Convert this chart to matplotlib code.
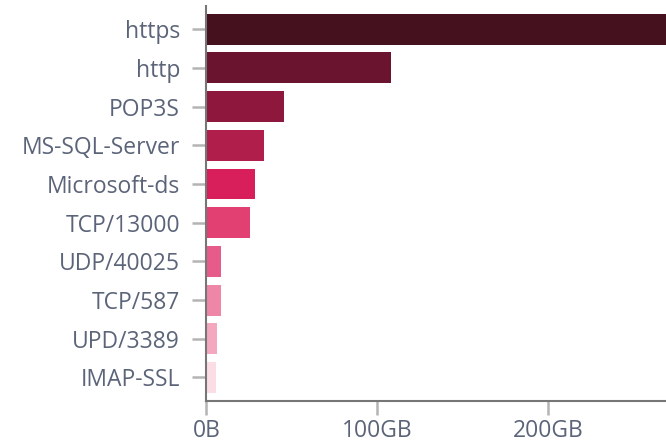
import matplotlib
matplotlib.use('Agg')
import matplotlib.pyplot as plt

# traffic volume per service, in GB
services = ['https', 'http', 'POP3S', 'MS-SQL-Server', 'Microsoft-ds',
            'TCP/13000', 'UDP/40025', 'TCP/587', 'UPD/3389', 'IMAP-SSL']
volumes = [290, 108, 45.4, 33.7, 28.5, 25.6, 8.6, 8.6, 6.3, 5.7]
colors = ['#45111f', '#6a1430', '#8e173e', '#b01e4c', '#d81e5b',
          '#e23f72', '#e65b8a', '#ee86a7', '#f4a8c0', '#fbdde5']
x_ticks = [0, 100, 200]
x_tick_labels = ['0B', '100GB', '200GB']

plt.rcParams['font.family'] = ['Open Sans', 'DejaVu Sans']
label_color = '#5b6478'

fig = plt.figure(figsize=(6.66, 4.45), dpi=100)
ax = fig.add_axes([0.3098, 0.0996, 0.6902, 0.8869])

ax.barh(range(len(services)), volumes, height=0.8, color=colors)

ax.set_xlim(0, 269)
ax.set_ylim(9.6, -0.6)
ax.set_yticks(range(len(services)))
ax.set_yticklabels(services)
ax.set_xticks(x_ticks)
ax.set_xticklabels(x_tick_labels)

for side in ['top', 'right']:
    ax.spines[side].set_visible(False)
for side in ['left', 'bottom']:
    ax.spines[side].set_color('#767676')
    ax.spines[side].set_linewidth(1.5)

ax.tick_params(axis='both', colors='#b4b4b4', length=10, width=1.8,
               labelsize=16.5, labelcolor=label_color)
ax.tick_params(axis='y', pad=9)
ax.tick_params(axis='x', pad=3)

fig.savefig('out.png', dpi=100)
